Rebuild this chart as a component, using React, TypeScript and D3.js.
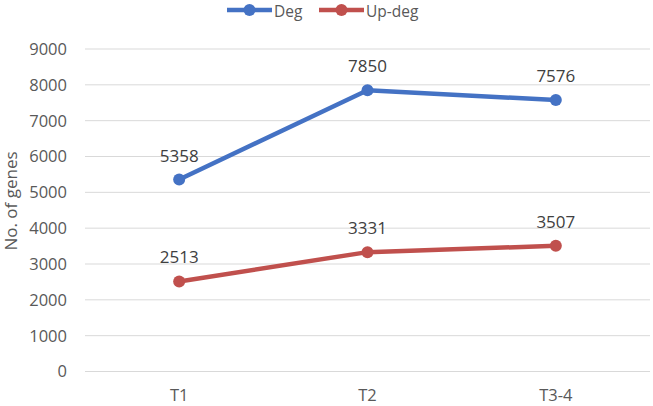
import React from 'react';
import * as d3 from 'd3';

const categories = ['T1', 'T2', 'T3-4'];
const degValues = [5358, 7850, 7576];
const upDegValues = [2513, 3331, 3507];
const yTicks = [0, 1000, 2000, 3000, 4000, 5000, 6000, 7000, 8000, 9000];

const series = [
    { name: 'Deg', values: degValues, color: '#4472C4' },
    { name: 'Up-deg', values: upDegValues, color: '#C0504D' },
];

const width = 653;
const height = 406;
const left = 85;
const right = 650;
const top = 49;
const bottom = 371.5;
const font = '"Open Sans", "Liberation Sans", sans-serif';

const App = () => {
    const x = d3.scaleBand().domain(categories).range([left, right]);
    const y = d3.scaleLinear().domain([0, 9000]).range([bottom, top]);
    const cx = (c: string) => (x(c) as number) + x.bandwidth() / 2;

    const line = d3.line<number>()
        .x((d, i) => cx(categories[i]))
        .y(d => y(d));

    const legendItems = [
        { x: 227, textX: 274 },
        { x: 319, textX: 366 },
    ];

    return (
        <svg width={width} height={height} style={{ position: 'absolute', left: 0, top: 0 }}>
            <rect width={width} height={height} fill="#fff" />
            {yTicks.map(t => (
                <g key={t}>
                    <line x1={left} x2={right} y1={y(t)} y2={y(t)} stroke="#d9d9d9" strokeWidth={1} />
                    <text x={67} y={y(t)} dy="0.36em" textAnchor="end" fontFamily={font} fontSize={16.5} fill="#595959">{t}</text>
                </g>
            ))}
            {categories.map(c => (
                <text key={c} x={cx(c)} y={401} textAnchor="middle" fontFamily={font} fontSize={16.5} fill="#595959">{c}</text>
            ))}
            <text transform="translate(17,201) rotate(-90)" textAnchor="middle" fontFamily={font} fontSize={17} fill="#595959">No. of genes</text>
            {series.map(s => (
                <g key={s.name}>
                    <path d={line(s.values) || ''} fill="none" stroke={s.color} strokeWidth={4.5} strokeLinejoin="round" />
                    {s.values.map((v, i) => (
                        <g key={i}>
                            <circle cx={cx(categories[i])} cy={y(v)} r={6} fill={s.color} />
                            <text x={cx(categories[i])} y={y(v) - 18} textAnchor="middle" fontFamily={font} fontSize={17} fill="#404040">{v}</text>
                        </g>
                    ))}
                </g>
            ))}
            {series.map((s, i) => (
                <g key={s.name}>
                    <line x1={legendItems[i].x} x2={legendItems[i].x + 45} y1={10} y2={10} stroke={s.color} strokeWidth={4.5} />
                    <circle cx={legendItems[i].x + 22.5} cy={10} r={6} fill={s.color} />
                    <text x={legendItems[i].textX} y={16.5} fontFamily={font} fontSize={15.5} fill="#595959">{s.name}</text>
                </g>
            ))}
        </svg>
    );
};

export default App;
